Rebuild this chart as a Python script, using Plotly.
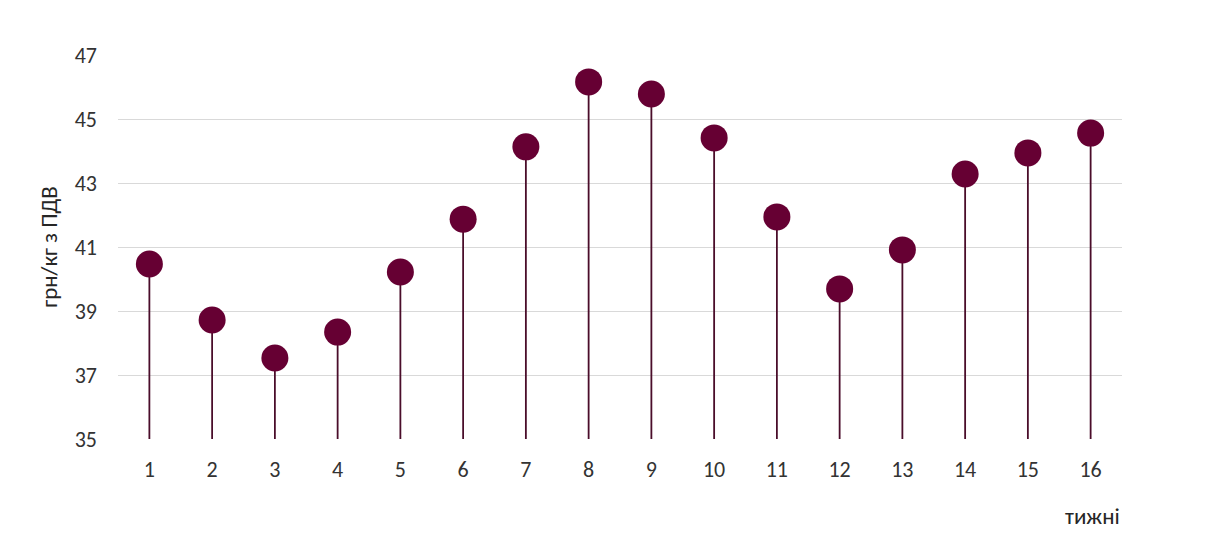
import plotly.graph_objects as go

weeks = list(range(1, 17))
prices = [40.47, 38.72, 37.53, 38.34, 40.22, 41.87, 44.13, 46.16,
          45.78, 44.41, 41.94, 39.69, 40.91, 43.28, 43.94, 44.56]
y_ticks = [35, 37, 39, 41, 43, 45, 47]
base = 35

stem_x, stem_y = [], []
for w, p in zip(weeks, prices):
    stem_x += [w, w, None]
    stem_y += [base, p, None]

fig = go.Figure()
fig.add_trace(go.Scatter(x=stem_x, y=stem_y, mode="lines",
                         line=dict(color="#4a0d2a", width=1.8),
                         hoverinfo="skip", showlegend=False))
fig.add_trace(go.Scatter(x=weeks, y=prices, mode="markers",
                         marker=dict(color="#660033", size=27,
                                     line=dict(width=0)),
                         showlegend=False))

font_family = "Carlito, Lato, 'Open Sans', sans-serif"
fig.update_layout(
    width=1208, height=560,
    margin=dict(l=110, r=94, t=47, b=129),
    plot_bgcolor="white", paper_bgcolor="white",
    font=dict(family=font_family, size=22, color="#333333"),
    xaxis=dict(range=[0.5, 16.5], tickmode="array", tickvals=weeks,
               ticktext=[str(w) for w in weeks], showgrid=False,
               zeroline=False, showline=False, ticks="",
               ticklabelstandoff=15,
               tickfont=dict(size=22, color="#333333")),
    yaxis=dict(range=[35, 47], tickmode="array", tickvals=y_ticks,
               ticktext=[str(t) for t in y_ticks],
               showgrid=True, gridcolor="#d9d9d9", gridwidth=1.3,
               zeroline=False, showline=False, ticks="",
               ticklabelstandoff=20,
               tickfont=dict(size=22, color="#333333"),
               title=dict(text="грн/кг з ПДВ", standoff=10,
                          font=dict(size=23, color="#262626"))),
    annotations=[dict(text="тижні", xref="paper", yref="paper",
                      x=1.0, y=-0.20, xanchor="right", yanchor="middle",
                      showarrow=False,
                      font=dict(size=23, color="#262626"))],
)

fig.write_html("out.html")
